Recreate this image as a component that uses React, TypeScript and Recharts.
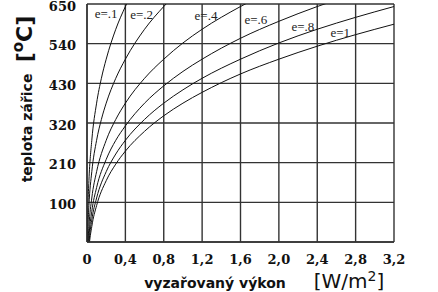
import React from 'react';
import { LineChart, Line, XAxis, YAxis, CartesianGrid, ReferenceDot } from 'recharts';

// radiated power (x) and heater temperature (°C)
const powerE01 = [0.002, 0.005, 0.01, 0.02, 0.05, 0.1, 0.15, 0.2, 0.3, 0.4, 0.45];
const tempE01 = [-29, 33, 91, 160, 272, 375, 444, 497, 580, 643, 671];

const powerE02 = [0.002, 0.005, 0.01, 0.02, 0.05, 0.1, 0.15, 0.2, 0.3, 0.4, 0.6, 0.8, 0.9];
const tempE02 = [-68, -15, 33, 91, 185, 272, 330, 375, 444, 497, 580, 643, 671];

const powerE04 = [0.005, 0.01, 0.02, 0.05, 0.1, 0.2, 0.3, 0.4, 0.6, 0.8, 1.0, 1.2, 1.6, 1.8];
const tempE04 = [-56, -15, 33, 112, 185, 272, 330, 375, 444, 497, 542, 580, 643, 671];

const powerE06 = [0.01, 0.02, 0.05, 0.1, 0.2, 0.3, 0.4, 0.6, 0.8, 1.0, 1.2, 1.6, 2.0, 2.4, 2.8];
const tempE06 = [-40, 4, 75, 141, 219, 272, 312, 375, 423, 463, 497, 555, 602, 643, 679];

const powerE08 = [0.01, 0.02, 0.05, 0.1, 0.2, 0.3, 0.4, 0.6, 0.8, 1.0, 1.2, 1.6, 2.0, 2.4, 2.8, 3.2];
const tempE08 = [-56, -15, 51, 112, 185, 234, 272, 330, 375, 412, 444, 497, 542, 580, 613, 643];

const powerE10 = [0.01, 0.02, 0.05, 0.1, 0.2, 0.3, 0.4, 0.6, 0.8, 1.0, 1.2, 1.6, 2.0, 2.4, 2.8, 3.2];
const tempE10 = [-68, -29, 33, 91, 160, 206, 242, 297, 340, 375, 405, 456, 497, 533, 565, 594];

const xTicks = [0, 0.4, 0.8, 1.2, 1.6, 2.0, 2.4, 2.8, 3.2];
const yTicks = [100, 210, 320, 430, 540, 650];

const curveLabels = ['e=.1', 'e=.2', 'e=.4', 'e=.6', 'e=.8', 'e=1'];
const labelX = [0.2, 0.57, 1.24, 1.76, 2.25, 2.64];
const labelY = [625, 622, 619, 606, 589, 572];

const build = (xs: number[], ys: number[]) => xs.map((x, i) => ({ x, t: ys[i] }));

const series = [
  build(powerE01, tempE01),
  build(powerE02, tempE02),
  build(powerE04, tempE04),
  build(powerE06, tempE06),
  build(powerE08, tempE08),
  build(powerE10, tempE10),
];

const gridColor = '#333';
const tickStyle = { fontFamily: 'DejaVu Serif', fontWeight: 700, fontSize: 13, fill: '#111' };

const fmtX = (v: number) => (v === 0 ? '0' : v.toFixed(1).replace('.', ','));

export default function App() {
  return (
    <div style={{ position: 'absolute', left: 0, top: 0, width: 438, height: 292, background: '#fff' }}>
      <LineChart
        width={438}
        height={292}
        margin={{ top: 4, right: 44, bottom: 20, left: 27 }}
      >
        <CartesianGrid stroke={gridColor} strokeWidth={1.4} />
        <XAxis
          type="number"
          dataKey="x"
          domain={[0, 3.2]}
          ticks={xTicks}
          allowDataOverflow
          tickFormatter={fmtX}
          tickLine={false}
          axisLine={{ stroke: gridColor, strokeWidth: 1.4 }}
          tick={tickStyle}
          tickMargin={7}
          height={30}
          interval={0}
        />
        <YAxis
          type="number"
          dataKey="t"
          domain={[-10, 650]}
          ticks={yTicks}
          allowDataOverflow
          tickLine={false}
          axisLine={{ stroke: gridColor, strokeWidth: 1.4 }}
          tick={{ ...tickStyle, dy: 2 }}
          tickMargin={5}
          width={60}
          interval={0}
        />
        {series.map((d, i) => (
          <Line
            key={i}
            data={d}
            dataKey="t"
            type="monotone"
            stroke="#111"
            strokeWidth={1}
            dot={false}
            isAnimationActive={false}
          />
        ))}
        {curveLabels.map((lab, i) => (
          <ReferenceDot
            key={lab}
            x={labelX[i]}
            y={labelY[i]}
            r={0}
            fill="none"
            stroke="none"
            ifOverflow="visible"
            label={{
              value: lab,
              position: 'center',
              fontFamily: 'Liberation Serif',
              fontSize: 13,
              fill: '#222',
            }}
          />
        ))}
      </LineChart>
      <svg
        width={438}
        height={292}
        style={{ position: 'absolute', left: 0, top: 0, pointerEvents: 'none' }}
      >
        <text
          transform="translate(27,128) rotate(-90)"
          textAnchor="middle"
          dominantBaseline="central"
          fontFamily="DejaVu Sans"
          fontWeight={700}
          fontSize={14}
          fill="#111"
        >
          teplota zářice
        </text>
        <text
          transform="translate(32,39) rotate(-90)"
          textAnchor="middle"
          fontFamily="DejaVu Sans"
          fontWeight={700}
          fontSize={22}
          fill="#111"
        >
          [<tspan fontSize={15} dy={-9}>o</tspan><tspan dy={9}>C</tspan>]
        </text>
        <text
          x={215}
          y={288}
          textAnchor="middle"
          fontFamily="DejaVu Sans"
          fontWeight={700}
          fontSize={14}
          fill="#111"
        >
          vyzařovaný výkon
        </text>
        <text
          x={349}
          y={288}
          textAnchor="middle"
          fontFamily="DejaVu Sans"
          fontWeight={400}
          fontSize={20}
          fill="#111"
        >
          [W/m<tspan fontSize={14} dy={-7}>2</tspan><tspan dy={7}>]</tspan>
        </text>
      </svg>
    </div>
  );
}
